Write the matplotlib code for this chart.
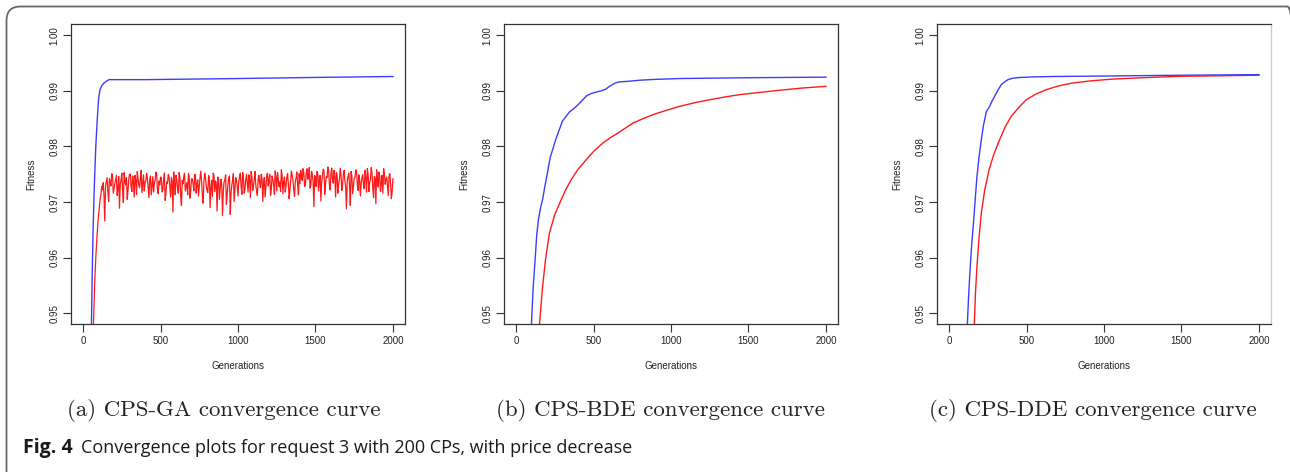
import numpy as np
import matplotlib.pyplot as plt
from matplotlib.patches import FancyBboxPatch

# values

# (a) CPS-GA
ga_blue_x = [50, 54, 58, 64, 72, 82, 92, 100, 109, 120, 135, 150, 167, 400, 1000, 1500, 2000]
ga_blue_y = [0.940, 0.948, 0.9555, 0.9644, 0.9725, 0.980, 0.9851, 0.9885, 0.9902, 0.9909, 0.9914,
             0.9917, 0.9920, 0.9920, 0.9922, 0.9924, 0.99257]

ga_red_start_x = [62, 67, 75, 82, 90, 97, 104, 110, 115, 120, 125]
ga_red_start_y = [0.942, 0.948, 0.9555, 0.960, 0.9640, 0.9668, 0.9688, 0.9705, 0.9712, 0.9728, 0.9722]
ga_red_noise_x = np.arange(130, 2001, 10)
ga_red_noise_y = [
    0.9735, 0.9666, 0.9737, 0.9718, 0.9742, 0.9729, 0.9748, 0.9725,
    0.9741, 0.9712, 0.9746, 0.9733, 0.9752, 0.9699, 0.9738, 0.9744, 0.9721, 0.9750,
    0.9728, 0.9747, 0.9709, 0.9739, 0.9755, 0.9730, 0.9743, 0.9717, 0.9749, 0.9736,
    0.9752, 0.9726, 0.9740, 0.9713, 0.9746, 0.9733, 0.9754, 0.9722, 0.9738, 0.9745,
    0.9718, 0.9741, 0.9703, 0.9736, 0.9750, 0.9727, 0.9744, 0.9682, 0.9731, 0.9748,
    0.9725, 0.9753, 0.9711, 0.9739, 0.9746, 0.9720, 0.9735, 0.9751, 0.9707, 0.9742,
    0.9733, 0.9749, 0.9716, 0.9740, 0.9728, 0.9756, 0.9712, 0.9737, 0.9744, 0.9721,
    0.9748, 0.9690, 0.9739, 0.9752, 0.9719, 0.9733, 0.9745, 0.9705, 0.9741, 0.9676,
    0.9736, 0.9749, 0.9712, 0.9743, 0.9678, 0.9730, 0.9751, 0.9724, 0.9739, 0.9711,
    0.9746, 0.9728, 0.9753, 0.9716, 0.9740, 0.9735, 0.9749, 0.9708, 0.9743, 0.9730,
    0.9755, 0.9719, 0.9741, 0.9734, 0.9750, 0.9701, 0.9744, 0.9727, 0.9752, 0.9738,
    0.9712, 0.9747, 0.9731, 0.9756, 0.9720, 0.9742, 0.9736, 0.9758, 0.9715, 0.9745,
    0.9729, 0.9751, 0.9706, 0.9740, 0.9748, 0.9722, 0.9737, 0.9754, 0.9713, 0.9733,
    0.9745, 0.9760, 0.9728, 0.9752, 0.9741, 0.9762, 0.9730, 0.9749, 0.9692, 0.9743,
    0.9755, 0.9720, 0.9748, 0.9736, 0.9759, 0.9714, 0.9746, 0.9763, 0.9731, 0.9752,
    0.9740, 0.9757, 0.9709, 0.9747, 0.9733, 0.9761, 0.9721, 0.9750, 0.9738, 0.9688,
    0.9746, 0.9729, 0.9755, 0.9715, 0.9742, 0.9758, 0.9734, 0.9749, 0.9711, 0.9744,
    0.9731, 0.9757, 0.9718, 0.9750, 0.9736, 0.9762, 0.9725, 0.9746, 0.9697, 0.9741,
    0.9754, 0.9719, 0.9748, 0.9760, 0.9732, 0.9745, 0.9712, 0.9751, 0.9706, 0.9742,
]
ga_red_mid_x = np.arange(135, 2000, 10)
ga_red_mid_y = [
    0.9712, 0.9729, 0.9744, 0.9701, 0.9736, 0.9751, 0.9716,
    0.9733, 0.9748, 0.9724, 0.9689, 0.9740, 0.9722, 0.9753, 0.9731, 0.9705, 0.9742,
    0.9750, 0.9719, 0.9737, 0.9748, 0.9714, 0.9741, 0.9726, 0.9757, 0.9732, 0.9720,
    0.9738, 0.9743, 0.9708, 0.9747, 0.9729, 0.9718, 0.9740, 0.9749, 0.9715, 0.9731,
    0.9744, 0.9722, 0.9752, 0.9717, 0.9734, 0.9746, 0.9709, 0.9738, 0.9754, 0.9713,
    0.9740, 0.9716, 0.9745, 0.9694, 0.9733, 0.9752, 0.9727, 0.9713, 0.9746, 0.9722,
    0.9741, 0.9720, 0.9750, 0.9733, 0.9711, 0.9744, 0.9737, 0.9698, 0.9752, 0.9729,
    0.9717, 0.9744, 0.9726, 0.9710, 0.9748, 0.9738, 0.9684, 0.9741, 0.9724, 0.9733,
    0.9719, 0.9740, 0.9696, 0.9731, 0.9747, 0.9716, 0.9739, 0.9701, 0.9744, 0.9728,
    0.9737, 0.9752, 0.9714, 0.9745, 0.9723, 0.9750, 0.9718, 0.9739, 0.9755, 0.9721,
    0.9741, 0.9730, 0.9712, 0.9748, 0.9726, 0.9743, 0.9735, 0.9709, 0.9746, 0.9729,
    0.9750, 0.9723, 0.9740, 0.9714, 0.9744, 0.9753, 0.9728, 0.9719, 0.9747, 0.9736,
    0.9718, 0.9745, 0.9733, 0.9721, 0.9756, 0.9738, 0.9710, 0.9744, 0.9730, 0.9751,
    0.9757, 0.9739, 0.9752, 0.9731, 0.9760, 0.9744, 0.9725, 0.9755, 0.9736, 0.9748,
    0.9728, 0.9751, 0.9739, 0.9702, 0.9747, 0.9756, 0.9733, 0.9744, 0.9758, 0.9722,
    0.9761, 0.9734, 0.9745, 0.9753, 0.9716, 0.9742, 0.9749, 0.9730, 0.9757, 0.9726,
    0.9738, 0.9752, 0.9694, 0.9747, 0.9729, 0.9744, 0.9756, 0.9721, 0.9740, 0.9733,
    0.9749, 0.9724, 0.9745, 0.9760, 0.9719, 0.9741, 0.9752, 0.9708, 0.9743, 0.9758,
    0.9727, 0.9746, 0.9735, 0.9716, 0.9752, 0.9740, 0.9728, 0.9747, 0.9733, 0.9719,
]

# (b) CPS-BDE
bde_blue_x = [95, 99, 110, 123, 133, 144, 158, 172, 185, 198, 210, 222, 237, 252, 268, 284, 300, 323,
              345, 377, 400, 431, 455, 484, 520, 550, 580, 603, 640, 667, 720, 797, 900, 1055, 1500, 2000]
bde_blue_y = [0.940, 0.948, 0.9545, 0.9597, 0.9640, 0.9668, 0.9690, 0.9706, 0.9727, 0.9746, 0.9765,
              0.9782, 0.9795, 0.9809, 0.9822, 0.9834, 0.9846, 0.9854, 0.9862, 0.9869, 0.9875, 0.9884,
              0.9891, 0.9895, 0.9898, 0.9900, 0.9903, 0.9908, 0.9914, 0.9916, 0.9917, 0.9919, 0.99205,
              0.9922, 0.99235, 0.99245]
bde_red_x = [140, 151, 170, 190, 215, 250, 291, 320, 355, 400, 452, 500, 560, 610, 657, 700, 754, 820,
             883, 960, 1055, 1160, 1270, 1350, 1442, 1570, 1701, 1850, 2000]
bde_red_y = [0.935, 0.948, 0.9545, 0.9597, 0.9644, 0.9678, 0.9704, 0.9722, 0.9740, 0.9759, 0.9776,
             0.9791, 0.9806, 0.9816, 0.9824, 0.9832, 0.9842, 0.9850, 0.9857, 0.9864, 0.9872, 0.9879,
             0.9885, 0.9889, 0.9893, 0.9897, 0.9901, 0.9905, 0.9908]

# (c) CPS-DDE
dde_blue_x = [114, 118, 125, 133, 145, 159, 170, 180, 193, 208, 222, 235, 240, 262, 278, 294, 315, 337,
              358, 380, 410, 455, 550, 670, 1000, 1500, 2000]
dde_blue_y = [0.940, 0.948, 0.9525, 0.9567, 0.9620, 0.9668, 0.9710, 0.9746, 0.9780, 0.9812, 0.9838,
              0.9855, 0.9862, 0.9872, 0.9882, 0.9890, 0.9901, 0.9911, 0.9916, 0.9920, 0.99225, 0.99239,
              0.9925, 0.99257, 0.99265, 0.9928, 0.9929]
dde_red_x = [158, 163, 170, 180, 193, 208, 230, 258, 290, 326, 362, 401, 450, 498, 560, 627, 710, 798,
             920, 1056, 1250, 1485, 1750, 2000]
dde_red_y = [0.935, 0.948, 0.9535, 0.9585, 0.9635, 0.9680, 0.9722, 0.9758, 0.9787, 0.9812, 0.9835,
             0.9854, 0.9870, 0.9884, 0.9894, 0.9902, 0.9909, 0.9914, 0.9918, 0.9921, 0.99235, 0.9926,
             0.9927, 0.9928]

captions = ["(a) CPS-GA convergence curve",
            "(b) CPS-BDE convergence curve",
            "(c) CPS-DDE convergence curve"]
yticks = [0.95, 0.96, 0.97, 0.98, 0.99, 1.00]
xticks = [0, 500, 1000, 1500, 2000]

BLUE = "#3c3cff"
RED = "#ff1a1a"
W, H = 1290, 472
AXFONT = ["Liberation Sans", "DejaVu Sans"]

fig = plt.figure(figsize=(W / 100, H / 100), dpi=100)

# rounded frame, open to the right and bottom (cut by the picture edge)
frame = FancyBboxPatch((0.065, -0.3), 12.95, H / 100 - 0.065 + 0.3,
                       boxstyle="round,pad=0,rounding_size=0.14",
                       transform=fig.dpi_scale_trans, fill=False,
                       edgecolor="#666666", lw=1.3)
fig.patches.append(frame)

lefts = [71, 504, 937]
cap_centers = [224, 660, 1093]

def series(i):
    if i == 0:
        nx = np.concatenate([ga_red_noise_x, ga_red_mid_x])
        ny = np.concatenate([ga_red_noise_y, ga_red_mid_y])
        order = np.argsort(nx)
        red_x = np.concatenate([ga_red_start_x, nx[order]])
        red_y = np.concatenate([ga_red_start_y, ny[order]])
        return ga_blue_x, ga_blue_y, red_x, red_y
    if i == 1:
        return bde_blue_x, bde_blue_y, bde_red_x, bde_red_y
    return dde_blue_x, dde_blue_y, dde_red_x, dde_red_y

for i in range(3):
    ax = fig.add_axes([lefts[i] / W, (H - 324) / H, 334 / W, 300 / H])
    bx, by, rx, ry = series(i)
    ax.plot(rx, ry, color=RED, lw=0.9 if i == 0 else 1.0)
    ax.plot(bx, by, color=BLUE, lw=1.0)
    ax.set_xlim(-78, 2078)
    ax.set_ylim(0.9481, 1.0020)
    ax.set_xticks(xticks)
    ax.set_xticklabels([str(t) for t in xticks], family=AXFONT)
    ax.set_yticks(yticks)
    ax.set_yticklabels(["%.2f" % t for t in yticks], rotation=90, va="center", family=AXFONT)
    ax.tick_params(direction="out", length=5.5, width=0.8, color="#333333",
                   labelsize=7, labelcolor="#222222", pad=3)
    for sp in ax.spines.values():
        sp.set_color("#333333")
        sp.set_linewidth(0.9)
    if i == 2:
        ax.spines["right"].set_color("#cccccc")
    ax.set_ylabel("Fitness", fontsize=7, color="#222222", labelpad=9, family=AXFONT)
    ax.set_xlabel("Generations", fontsize=7, color="#222222", labelpad=11, family=AXFONT)
    fig.text(cap_centers[i] / W, 1 - 411 / H, captions[i], fontname="cmr10",
             fontsize=16.5, ha="center", va="center", color="#222222")

fig.text(23 / W, 1 - 448 / H, "Fig. 4", fontfamily="Open Sans", fontweight="bold",
         fontsize=14, ha="left", va="center", color="#1a1a1a")
fig.text(81 / W, 1 - 448 / H, "Convergence plots for request 3 with 200 CPs, with price decrease",
         fontfamily="Open Sans", fontsize=13, ha="left", va="center", color="#1a1a1a")

fig.savefig("out.png", dpi=100)
